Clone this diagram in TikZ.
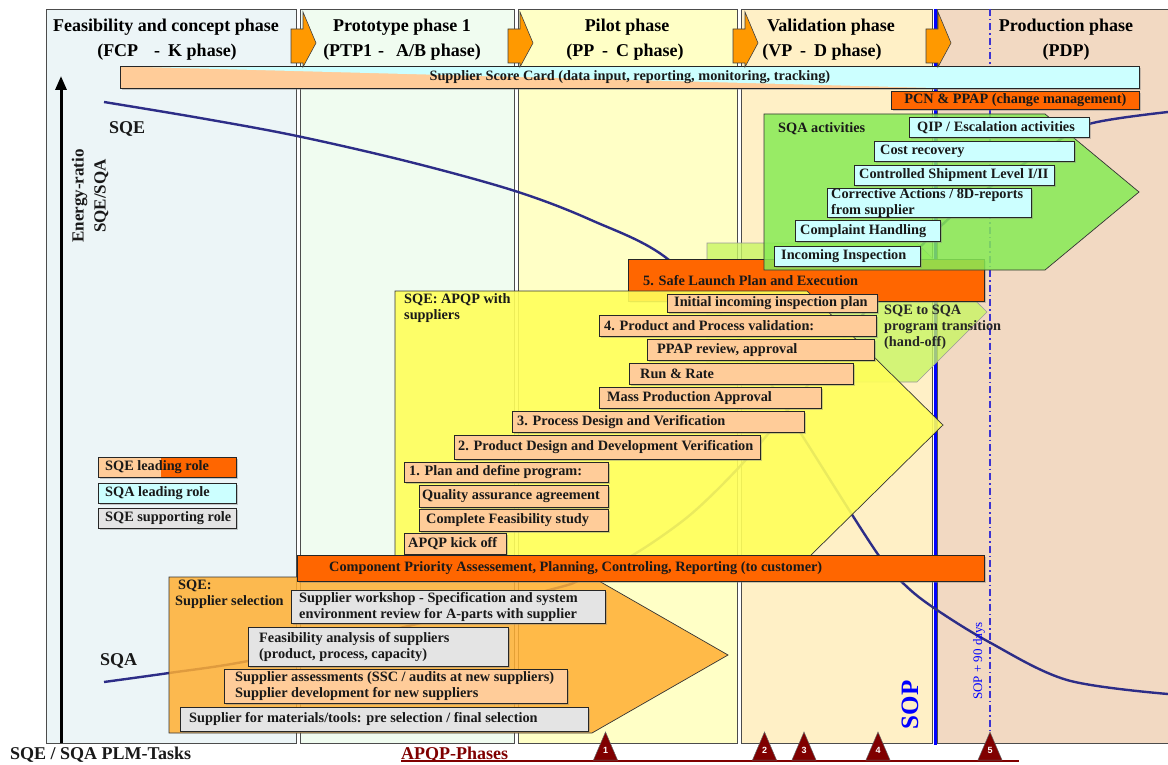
\documentclass[tikz,border=0pt]{standalone}
\usepackage{fontspec}
\setmainfont{Liberation Serif}
\newfontfamily\numfont{Liberation Sans}
\usetikzlibrary{arrows.meta,shadows}
\definecolor{colA}{RGB}{236,245,247}
\definecolor{colB}{RGB}{240,252,240}
\definecolor{colC}{RGB}{255,255,198}
\definecolor{colD}{RGB}{255,240,198}
\definecolor{colE}{RGB}{242,217,194}
\definecolor{peach}{RGB}{255,204,153}
\definecolor{orng}{RGB}{255,102,0}
\definecolor{cyn}{RGB}{204,255,255}
\definecolor{gry}{RGB}{228,228,228}
\definecolor{chev}{RGB}{255,153,0}
\definecolor{navy}{RGB}{45,45,135}
\definecolor{dred}{RGB}{128,0,0}
\definecolor{sopblue}{RGB}{0,0,255}
\definecolor{ddblue}{RGB}{60,50,210}
\definecolor{grn}{RGB}{135,235,85}
\definecolor{lgrn}{RGB}{200,245,100}
\definecolor{ylw}{RGB}{255,255,90}
\definecolor{sel}{RGB}{255,175,50}
\newcommand\rbox[6]{%
  \pgfmathsetmacro\bw{#5-#3}%
  \pgfmathsetmacro\bh{#6-#4}%
  \node[#1,anchor=north west,minimum width=\bw pt,minimum height=\bh pt,inner sep=0pt] (#2) at (#3,#4) {};}
\newcommand\tbox[8]{\rbox{#1}{#2}{#3}{#4}{#5}{#6}\node[lbl] (#2-t) at ([xshift=#7pt]#2.west) {#8};}
\newcommand\cbox[7]{\rbox{#1}{#2}{#3}{#4}{#5}{#6}\node[lbl,anchor=center] (#2-t) at (#2.center) {#7};}
\newcommand\chevron[2]{\coordinate (#1) at (#2,29);
  \draw[chevst] (#1) -- ++(12,0) -- ++(0,-17) -- ++(13,31) -- ++(-13,24) -- ++(0,-4) -- ++(-12,0) -- cycle;}
\begin{document}
\begin{tikzpicture}[x=1pt,y=-1pt,
  col/.style={draw=black!70, line width=1pt},
  box/.style={draw=black!85, line width=0.8pt, drop shadow={shadow xshift=1.2pt,shadow yshift=-1.2pt,opacity=0.4}},
  lbl/.style={font=\fontsize{14.3}{16}\selectfont\bfseries, text=black!90, anchor=west, inner sep=0pt, align=left},
  hdr/.style={font=\fontsize{18}{21}\selectfont\bfseries, inner sep=0pt},
  big/.style={font=\fontsize{18}{21}\selectfont\bfseries, inner sep=0pt, text=black!90},
  chevst/.style={fill=chev, draw=black!75, line width=0.6pt},
  curve/.style={draw=navy, line width=2.4pt},
  pent/.style={draw=black!80, line width=0.7pt, fill opacity=0.9},
  tri/.style={fill=dred, draw=black!60, line width=0.5pt},
  trinum/.style={text=white, font=\fontsize{9}{10}\selectfont\bfseries\numfont, inner sep=0pt}]
\useasboundingbox (0,0) rectangle (1168,765);
\fill[white] (0,0) rectangle (1168,765);
% phase columns
\rbox{col,fill=colA}{c1}{46}{9}{296}{743}
\rbox{col,fill=colB}{c2}{300}{9}{514}{743}
\rbox{col,fill=colC}{c3}{518}{9}{737}{743}
\rbox{col,fill=colD}{c4}{741}{9}{932}{743}
\rbox{col,fill=colE}{c5}{937}{9}{1180}{743}
% headers
\node[hdr] (h1a) at (166,27) {Feasibility and concept phase};
\node[hdr] (h1b) at (167,52) {(FCP\hspace{16pt}-\hspace{8pt}K phase)};
\node[hdr] (h2a) at (402,27) {Prototype phase 1};
\node[hdr] (h2b) at (402,52) {(PTP1\hspace{6pt}-\hspace{12pt}A/B phase)};
\node[hdr] (h3a) at (627,27) {Pilot phase};
\node[hdr] (h3b) at (625,52) {(PP\hspace{8pt}-\hspace{8pt}C phase)};
\node[hdr] (h4a) at (831,27) {Validation phase};
\node[hdr] (h4b) at (822,52) {(VP\hspace{8pt}-\hspace{8pt}D phase)};
\node[hdr] (h5a) at (1066,27) {Production phase};
\node[hdr] (h5b) at (1066,52) {(PDP)};
% SOP and SOP+90 lines
\coordinate (sopT) at (935,9); \coordinate (sopB) at (935,745);
\draw[sopblue, line width=3pt] (sopT) -- (sopB);
\coordinate (ddT) at (990,9); \coordinate (ddB) at (990,743);
\draw[ddblue, line width=1.4pt, dash pattern=on 7pt off 3pt on 1.5pt off 3pt] (ddT) -- (ddB);
% axis
\coordinate (axB) at (61,743); \coordinate (axT) at (61,76);
\draw[line width=3pt, -{Triangle[length=14pt,width=11pt]}] (axB) -- (axT);
% curves
\draw[curve] plot[smooth,tension=0.55] coordinates {(104,102) (200,118) (297,136) (410,162) (515,191) (591,220) (669,260) (745,345) (805,440) (877,553) (905,585) (934,608) (989,642) (1067,680) (1168,694)};
\draw[curve] plot[smooth,tension=0.5] coordinates {(104,682) (169,673) (248,661) (400,628) (553,589) (580,580) (633,555) (690,515) (743,463) (800,395) (860,318) (910,258) (955,213) (1000,180) (1045,150) (1089,124) (1168,112)};
% score card
\rbox{box,fill=peach,path picture={\fill[cyn] (path picture bounding box.north west) -- (path picture bounding box.north east) -- (path picture bounding box.south east) -- ([xshift=-189pt]path picture bounding box.south east) -- cycle;}}{sc}{120}{66}{1139}{88}
\node[lbl,anchor=center] (sc-t) at (sc.center) {Supplier Score Card (data input, reporting, monitoring, tracking)};
\cbox{box,fill=orng}{pcn}{891}{91}{1139}{109}{PCN \& PPAP (change management)}
% chevrons
\chevron{ch1}{291}
\chevron{ch2}{508}
\chevron{ch3}{733}
\chevron{ch4}{926}
% hand-off arrow
\draw[draw=black!40, line width=0.6pt, fill=lgrn, fill opacity=0.8] (707,243) -- (917,243) -- (987,312) -- (917,382) -- (707,382) -- cycle;
% safe launch
\tbox{box,fill=orng}{sl}{628}{259}{984}{301}{15}{5. Safe Launch Plan and Execution}
% APQP yellow arrow
\draw[pent, fill=ylw] (395,291) -- (807,291) -- (943,425) -- (807,559) -- (395,559) -- cycle;
% SQA green arrow
\draw[pent, fill=grn, fill opacity=0.85] (764,114) -- (1045,114) -- (1139,192) -- (1045,270) -- (764,270) -- cycle;
% SQA activities boxes
\tbox{box,fill=cyn}{qip}{909}{117}{1089}{137}{8}{QIP / Escalation activities}
\tbox{box,fill=cyn}{cost}{874}{141}{1074}{161}{6}{Cost recovery}
\tbox{box,fill=cyn}{csl}{854}{165}{1054}{185}{5}{Controlled Shipment Level I/II}
\tbox{box,fill=cyn}{corr}{827}{188}{1031}{217}{4}{Corrective Actions / 8D-reports\\from supplier}
\tbox{box,fill=cyn}{compl}{795}{220}{940}{241}{5}{Complaint Handling}
\tbox{box,fill=cyn}{inc}{774}{246}{920}{266}{7}{Incoming Inspection}
% APQP boxes
\tbox{box,fill=peach}{iip}{667}{294}{877}{312}{7}{Initial incoming inspection plan}
\tbox{box,fill=peach}{p4}{599}{315}{876}{336}{5}{4. Product and Process validation:}
\tbox{box,fill=peach}{ppap}{647}{339}{874}{360}{10}{PPAP review, approval}
\tbox{box,fill=peach}{rr}{629}{363}{853}{384}{11}{Run \& Rate}
\tbox{box,fill=peach}{mpa}{599}{387}{821}{408}{8}{Mass Production Approval}
\tbox{box,fill=peach}{p3}{512}{411}{804}{432}{5}{3. Process Design and Verification}
\tbox{box,fill=peach}{p2}{454}{435}{760}{459}{4}{2. Product Design and Development Verification}
\tbox{box,fill=peach}{p1}{404}{462}{608}{482}{5}{1. Plan and define program:}
\tbox{box,fill=peach}{qaa}{419}{485}{608}{507}{3}{Quality assurance agreement}
\tbox{box,fill=peach}{cfs}{419}{509}{608}{531}{7}{Complete Feasibility study}
\tbox{box,fill=peach}{kick}{404}{533}{506}{554}{4}{APQP kick off}
% supplier selection arrow
\draw[pent, fill=sel, fill opacity=0.85] (169,577) -- (592,577) -- (728,655) -- (592,733) -- (169,733) -- cycle;
% component bar
\tbox{box,fill=orng}{cpa}{297}{555}{984}{581}{32}{Component Priority Assessement, Planning, Controling, Reporting (to customer)}
% supplier selection boxes
\tbox{box,fill=gry}{ws}{291}{590}{605}{623}{8}{Supplier workshop - Specification and system\\environment review for A-parts with supplier}
\tbox{box,fill=gry}{fa}{248}{627}{508}{666}{11}{Feasibility analysis of suppliers\\(product, process, capacity)}
\tbox{box,fill=peach}{sa}{224}{669}{567}{703}{11}{Supplier assessments (SSC / audits at new suppliers)\\Supplier development for new suppliers}
\tbox{box,fill=gry}{sm}{180}{707}{588}{731}{9}{Supplier for materials/tools: pre selection / final selection}
% legend
\tbox{box,fill=peach,path picture={\fill[orng] ([xshift=63pt]path picture bounding box.south west) rectangle (path picture bounding box.north east);}}{lg1}{98}{457}{236}{477}{7}{SQE leading role}
\tbox{box,fill=cyn}{lg2}{98}{483}{236}{503}{7}{SQA leading role}
\tbox{box,fill=gry}{lg3}{98}{508}{236}{528}{7}{SQE supporting role}
% free labels
\node[lbl,anchor=north west] (apqpl) at (404,293) {SQE: APQP with\\suppliers};
\node[lbl] (sqaact) at (778,129) {SQA activities};
\node[lbl,anchor=north west,text=black!85] (hand) at (884,305) {SQE to SQA\\program transition\\(hand-off)};
\node[lbl,anchor=north west] (ssel) at (175,580) {\hspace*{3pt}SQE:\\Supplier selection};
\node[big,anchor=west] (sqe) at (109,129) {SQE};
\node[big,anchor=west] (sqa) at (100,661) {SQA};
\node[rotate=90, align=center, font=\fontsize{17}{22}\selectfont\bfseries, inner sep=0pt, text=black!90] (ener) at (90,196) {Energy-ratio\\SQE/SQA};
\node[rotate=90, text=sopblue, font=\fontsize{25}{26}\selectfont\bfseries, inner sep=0pt] (sop) at (910,705) {SOP};
\node[rotate=90, text=sopblue, font=\fontsize{13}{14}\selectfont, inner sep=0pt] (sop90) at (979,661) {SOP + 90 days};
% APQP phases
\coordinate (apL) at (401,761); \coordinate (apR) at (1019,761);
\draw[dred, line width=1.6pt] (apL) -- (apR);
\foreach \n/\x in {1/605.5,2/764.5,3/804,4/878,5/990} {
  \path[tri] (\x,732) -- (\x+12,760) -- (\x-12,760) -- cycle;
  \node[trinum] (tri\n) at (\x,750) {\n};
}
\node[big,anchor=base west,text=dred] (apqp) at (401,759) {APQP-Phases};
\node[big,anchor=base west] (plm) at (10,759) {SQE / SQA PLM-Tasks};
\end{tikzpicture}
\end{document}
